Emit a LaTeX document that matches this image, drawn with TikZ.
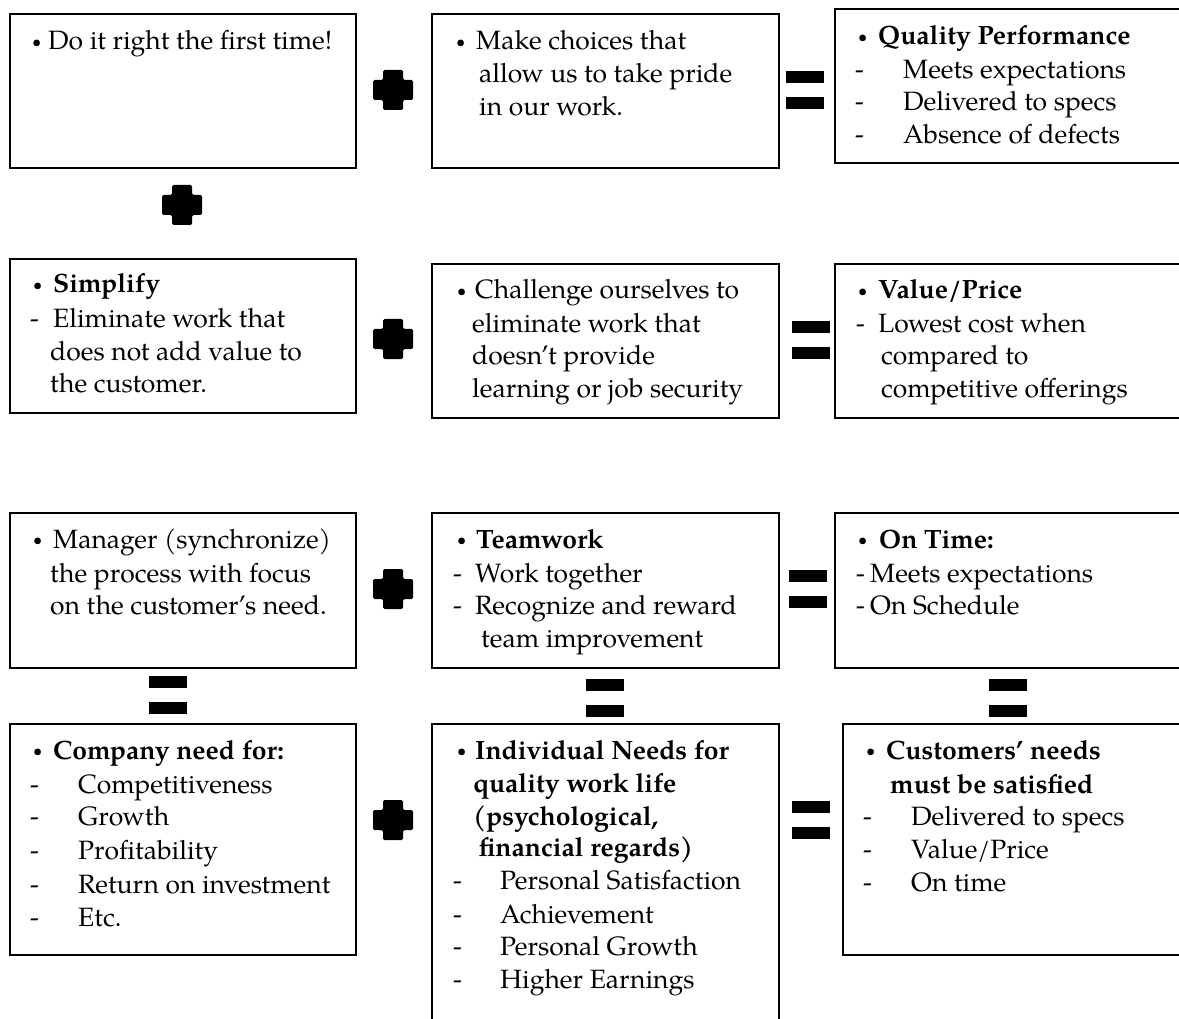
\documentclass[tikz,border=0pt]{standalone}
\usepackage{fontspec}
\usepackage{graphicx}
\setmainfont{TeX Gyre Pagella}
\usetikzlibrary{calc}
\newcommand\smbul{\raisebox{2.2pt}{\scalebox{0.62}{\textbullet}}}
\newcommand\bx[5]{\node[box, minimum width=#4, minimum height=#5] (#1) at (#2,#3) {};}
\newcommand\tline[4]{\node[txt] (#1) at (#2,#3) {#4};}
\newcommand\bline[5]{\node[txt] (#1) at (#2,#4) {\makebox[\dimexpr#3pt-#2pt\relax][l]{\smbul}#5};}
\newcommand\dline[5]{\node[txt] (#1) at (#2,#4) {\makebox[\dimexpr#3pt-#2pt\relax][l]{-}#5};}
\newcommand\plusop[3]{\coordinate (#1) at (#2,#3);
  \fill[opfill] (#1) ++(-10,-20) -- ++(20,0) -- ++(0,10) -- ++(10,0) -- ++(0,20) -- ++(-10,0) -- ++(0,10) -- ++(-20,0) -- ++(0,-10) -- ++(-10,0) -- ++(0,-20) -- ++(10,0) -- cycle;}
\newcommand\eqop[3]{\coordinate (#1) at (#2,#3);
  \fill[eqfill] (#1) ++(-19,-19) rectangle ++(38,12);
  \fill[eqfill] (#1) ++(-19,7) rectangle ++(38,12);}
\begin{document}
\begin{tikzpicture}[x=1pt,y=-1pt,
  box/.style={draw=black, line width=1.8pt, inner sep=0pt, anchor=north west},
  txt/.style={inner sep=0pt, anchor=base west, font=\fontsize{26.5}{32}\selectfont},
  opfill/.style={fill=black, rounded corners=1.5pt},
  eqfill/.style={fill=black}]
\useasboundingbox (0,0) rectangle (1179,1019);
\clip (0,0) rectangle (1179,1019);
\fill[white] (0,0) rectangle (1179,1019);

% boxes
\bx{A}{9}{13}{346pt}{154pt}
\bx{B}{431}{13}{347pt}{154pt}
\bx{C}{834}{8}{360pt}{154pt}
\bx{D}{9}{258}{346pt}{154pt}
\bx{E}{431}{263}{347pt}{154pt}
\bx{F}{834}{263}{360pt}{154pt}
\bx{G}{9}{512}{346pt}{155pt}
\bx{H}{431}{512}{347pt}{155pt}
\bx{I}{834}{512}{360pt}{155pt}
\bx{J}{9}{723}{346pt}{231pt}
\bx{K}{431}{723}{347pt}{320pt}
\bx{L}{842}{723}{360pt}{231pt}

% operators
\plusop{p1}{393}{90}
\plusop{p2}{182}{205}
\plusop{p3}{393}{339}
\plusop{p4}{393}{589}
\plusop{p5}{393}{820}
\eqop{q1}{805}{90}
\eqop{q2}{811}{340}
\eqop{q3}{808}{589}
\eqop{q4}{167.5}{695}
\eqop{q5}{604.5}{697.5}
\eqop{q6}{1007.5}{697.5}
\eqop{q7}{811}{820}

% text A
\bline{a1}{32}{48}{50}{Do it right the first time!}
% text B
\bline{b1}{456}{476}{50}{Make choices that}
\tline{b2}{479}{83}{allow us to take pride}
\tline{b3}{479}{116}{in our work.}
% text C
\bline{c1}{858}{878}{45}{\textbf{Quality Performance}}
\dline{c2}{855}{903}{79}{Meets expectations}
\dline{c3}{855}{903}{111}{Delivered to specs}
\dline{c4}{855}{903}{144}{Absence of defects}
% text D
\bline{d1}{33}{53}{293}{\textbf{Simplify}}
\dline{d2}{30}{53}{327}{Eliminate work that}
\tline{d3}{50}{360}{does not add value to}
\tline{d4}{50}{392}{the customer.}
% text E
\bline{e1}{457}{475}{299}{Challenge ourselves to}
\tline{e2}{472}{332}{eliminate work that}
\tline{e3}{472}{364}{doesn’t provide}
\tline{e4}{472}{397}{learning or job security}
% text F
\bline{f1}{858}{878}{299}{\textbf{Value/Price}}
\dline{f2}{856}{878}{332}{Lowest cost when}
\tline{f3}{881}{364}{compared to}
\tline{f4}{881}{397}{competitive offerings}
% text G
\bline{g1}{33}{53}{548}{Manager (synchronize)}
\tline{g2}{50}{582}{the process with focus}
\tline{g3}{50}{614}{on the customer’s need.}
% text H
\bline{h1}{457}{476}{548}{\textbf{Teamwork}}
\dline{h2}{453}{475}{582}{Work together}
\dline{h3}{453}{475}{614}{Recognize and reward}
\tline{h4}{481}{647}{team improvement}
% text I
\bline{i1}{858}{879}{548}{\textbf{On Time:}}
\dline{i2}{856}{870}{582}{Meets expectations}
\dline{i3}{856}{870}{614}{On Schedule}
% text J
\bline{j1}{33}{53}{759}{\textbf{Company need for:}}
\dline{j2}{30}{78}{793}{Competitiveness}
\dline{j3}{30}{78}{825}{Growth}
\dline{j4}{30}{78}{859}{Profitability}
\dline{j5}{30}{78}{893}{Return on investment}
\dline{j6}{30}{78}{926}{Etc.}
% text K
\bline{k1}{457}{475}{759}{\textbf{Individual Needs for}}
\tline{k2}{473}{792}{\textbf{quality work life}}
\tline{k3}{473}{825}{\textbf{(psychological,}}
\tline{k4}{479}{856}{\textbf{financial regards)}}
\dline{k5}{453}{500}{889}{Personal Satisfaction}
\dline{k6}{453}{500}{923}{Achievement}
\dline{k7}{453}{500}{955}{Personal Growth}
\dline{k8}{453}{500}{988}{Higher Earnings}
% text L
\bline{l1}{866}{886}{759}{\textbf{Customers’ needs}}
\tline{l2}{890}{793}{\textbf{must be satisfied}}
\dline{l3}{863}{911}{825}{Delivered to specs}
\dline{l4}{863}{911}{858}{Value/Price}
\dline{l5}{863}{911}{891}{On time}
\end{tikzpicture}
\end{document}
